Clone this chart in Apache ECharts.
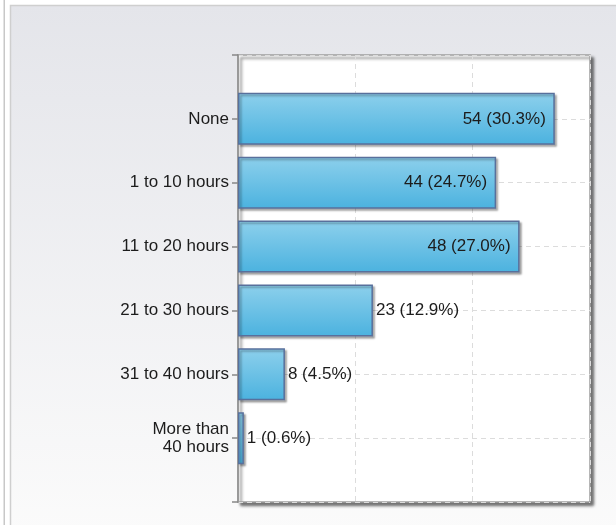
<!DOCTYPE html>
<html>
<head>
<meta charset="utf-8">
<script src="https://cdn.jsdelivr.net/npm/echarts@6/dist/echarts.min.js"></script>
<style>
html,body{margin:0;padding:0;background:#fff;}
#c{width:616px;height:525px;}
</style>
</head>
<body>
<div id="c"></div>
<script>
const categories = ['None', '1 to 10 hours', '11 to 20 hours', '21 to 30 hours', '31 to 40 hours', 'More than\n40 hours'];
const counts = [54, 44, 48, 23, 8, 1];
const percents = [30.3, 24.7, 27.0, 12.9, 4.5, 0.6];
const insideLabel = [true, true, true, false, false, false];

const FONT = 'Liberation Sans';
const chart = echarts.init(document.getElementById('c'), null, {renderer: 'canvas'});

const yData = [''].concat(categories, ['']);
const barData = ['-'].concat(counts.map((v, i) => ({
  value: v,
  label: {
    position: insideLabel[i] ? 'insideRight' : 'right',
    distance: insideLabel[i] ? 9 : 3,
    formatter: v + ' (' + percents[i].toFixed(1) + '%)'
  }
})), ['-']);

chart.setOption({
  animation: false,
  backgroundColor: '#ffffff',
  graphic: [
    {type: 'rect', shape: {x: 3.5, y: -2, width: 1.5, height: 530}, style: {fill: '#c8c8c8'}, z: -10},
    {type: 'rect', shape: {x: 10.5, y: 5.5, width: 620, height: 530},
      style: {
        fill: new echarts.graphic.LinearGradient(0, 0, 0, 1, [
          {offset: 0, color: '#e4e5ea'},
          {offset: 1, color: '#fbfbfb'}
        ]),
        stroke: '#cfcfcf', lineWidth: 1.5
      }, z: -10}
  ],
  grid: {
    left: 238, right: 26, top: 55, bottom: 23,
    show: true,
    backgroundColor: '#ffffff',
    borderColor: '#a0a0a0',
    borderWidth: 1.5,
    shadowColor: 'rgba(0,0,0,0.55)',
    shadowBlur: 3,
    shadowOffsetX: 3,
    shadowOffsetY: 3
  },
  xAxis: {
    type: 'value',
    min: 0, max: 60, interval: 20,
    axisLabel: {show: false},
    axisLine: {show: false},
    axisTick: {show: false},
    splitLine: {show: true, lineStyle: {color: '#dcdcdc', type: [5, 4], width: 1}}
  },
  yAxis: {
    type: 'category',
    data: yData,
    inverse: true,
    boundaryGap: false,
    axisLine: {show: true, lineStyle: {color: '#999999', width: 2}},
    axisTick: {show: true, length: 6, inside: false, lineStyle: {color: '#888888', width: 1.5}},
    axisLabel: {
      color: '#1c1c1c', fontFamily: FONT, fontSize: 17, margin: 9,
      align: 'right', lineHeight: 18
    },
    splitLine: {show: true, lineStyle: {color: '#dcdcdc', type: [5, 4], width: 1}}
  },
  series: [{
    type: 'bar',
    data: barData,
    barWidth: 52,
    itemStyle: {
      color: new echarts.graphic.LinearGradient(0, 0, 0, 1, [
        {offset: 0, color: '#8dd0ec'},
        {offset: 1, color: '#4bb2df'}
      ]),
      borderColor: '#58709c',
      borderWidth: 1.5,
      shadowColor: 'rgba(0,0,0,0.3)',
      shadowBlur: 2,
      shadowOffsetX: 2,
      shadowOffsetY: 2
    },
    label: {
      show: true,
      color: '#1c1c1c',
      fontFamily: FONT,
      fontSize: 17
    }
  }]
});
</script>
</body>
</html>
